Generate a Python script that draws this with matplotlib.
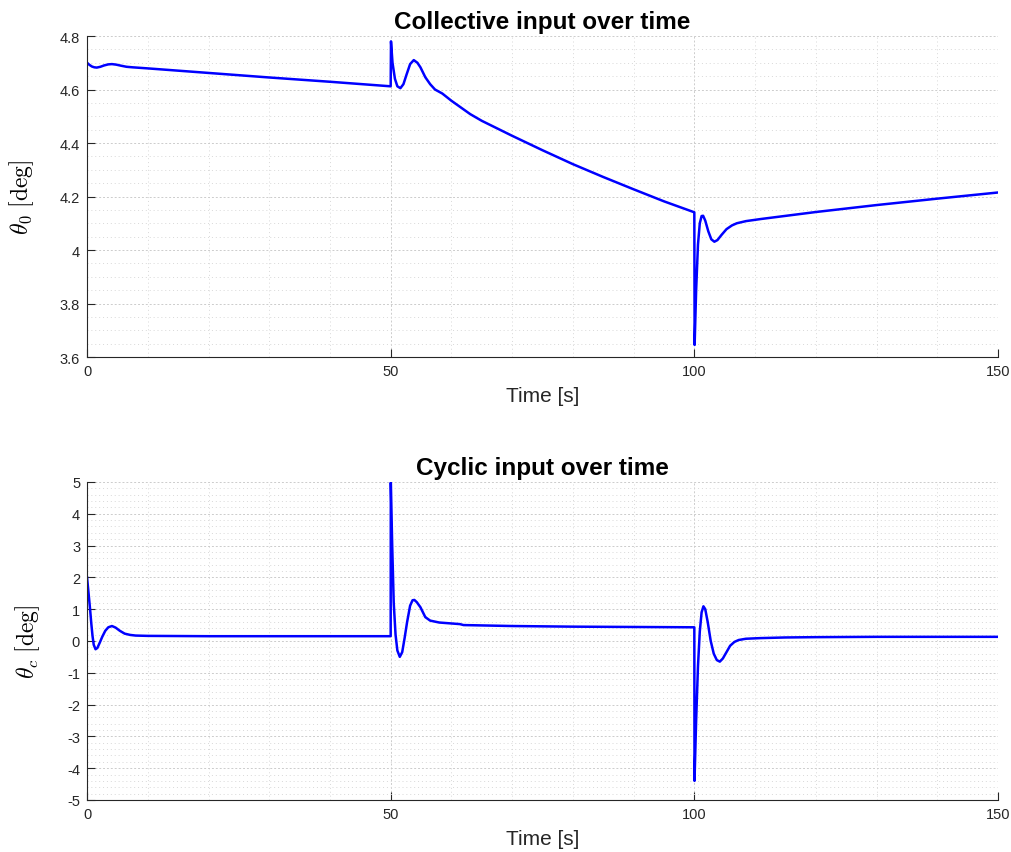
import numpy as np
import matplotlib.pyplot as plt
from matplotlib.ticker import MultipleLocator, FuncFormatter

plt.rcParams['font.family'] = ['Liberation Sans', 'DejaVu Sans']
plt.rcParams['mathtext.fontset'] = 'cm'
plt.rcParams['axes.unicode_minus'] = False

# collective pitch theta_0 [deg]
t_coll = [0, 0.4, 0.8, 1.2, 1.6, 2.2, 2.8, 3.5, 4.1, 4.8, 5.6, 6.5, 7.5, 10, 20, 30, 40,
          50.0, 50.05, 50.3, 50.7, 51.1, 51.6, 52.1, 52.6, 53.2, 53.8, 54.4, 54.9, 55.7,
          56.5, 57.3, 58.5, 60, 63.1, 65, 70, 75, 80, 85, 90, 95,
          100.0, 100.05, 100.3, 100.6, 100.9, 101.2, 101.45, 101.8, 102.3, 102.8, 103.3,
          103.8, 104.5, 105.3, 106.2, 107, 108.5, 111, 120, 130, 140, 150]
theta0 = [4.700, 4.692, 4.686, 4.683, 4.682, 4.685, 4.690, 4.694, 4.695, 4.693, 4.689,
          4.685, 4.683, 4.679, 4.662, 4.645, 4.629,
          4.612, 4.780, 4.700, 4.640, 4.612, 4.605, 4.620, 4.655, 4.695, 4.710, 4.700,
          4.683, 4.646, 4.620, 4.600, 4.585, 4.558, 4.508, 4.483, 4.427, 4.373, 4.321,
          4.273, 4.227, 4.182,
          4.141, 3.645, 3.850, 4.020, 4.100, 4.127, 4.128, 4.110, 4.070, 4.040, 4.031,
          4.037, 4.057, 4.078, 4.092, 4.100, 4.108, 4.116, 4.142, 4.168, 4.192, 4.215]

# cyclic pitch theta_c [deg]
t_cyc = [0, 0.25, 0.5, 0.7, 0.9, 1.1, 1.4, 1.7, 2.1, 2.5, 3.0, 3.5, 4.1, 4.7, 5.4, 6.2,
         7.1, 8, 10, 20, 30, 40,
         50.0, 50.02, 50.25, 50.5, 50.8, 51.1, 51.5, 51.9, 52.3, 52.7, 53.2, 53.6, 53.9,
         54.3, 54.9, 55.7, 56.5, 58, 61.4, 62, 70, 80, 90,
         100.0, 100.03, 100.3, 100.6, 100.9, 101.2, 101.5, 101.8, 102.2, 102.7, 103.2,
         103.7, 104.2, 104.7, 105.3, 105.9, 106.6, 107.3, 108.5, 110.9, 115, 120, 130, 150]
thetac = [2.00, 1.50, 1.00, 0.55, 0.16, -0.12, -0.26, -0.22, -0.05, 0.13, 0.32, 0.43,
          0.47, 0.42, 0.32, 0.23, 0.19, 0.17, 0.16, 0.15, 0.15, 0.15,
          0.15, 4.98, 3.00, 1.20, 0.20, -0.30, -0.50, -0.35, 0.10, 0.59, 1.11, 1.28, 1.29,
          1.22, 1.06, 0.75, 0.64, 0.58, 0.53, 0.50, 0.47, 0.45, 0.44,
          0.43, -4.40, -2.50, -0.80, 0.30, 0.90, 1.09, 1.00, 0.60, 0.00, -0.40, -0.60,
          -0.65, -0.55, -0.35, -0.15, -0.03, 0.03, 0.07, 0.09, 0.11, 0.12, 0.13, 0.13]

xticks = [0, 50, 100, 150]

fig = plt.figure(figsize=(10.11, 8.53), dpi=100)
ax1 = fig.add_axes([0.0861, 0.5803, 0.901, 0.3763])
ax2 = fig.add_axes([0.0861, 0.0610, 0.901, 0.3728])


def matlab_fmt(v, pos):
    s = '%.1f' % v
    if s.endswith('.0'):
        s = s[:-2]
    return s


def style(ax, ymin, ymax, ystep, yminor):
    ax.set_xlim(0, 150)
    ax.set_ylim(ymin, ymax)
    ax.set_xticks(xticks)
    ax.set_yticks(np.arange(ymin, ymax + ystep / 2, ystep))
    ax.xaxis.set_minor_locator(MultipleLocator(10))
    ax.yaxis.set_minor_locator(MultipleLocator(yminor))
    ax.yaxis.set_major_formatter(FuncFormatter(matlab_fmt))
    ax.grid(which='major', color='#cccccc', linestyle=(0, (2, 2)), linewidth=0.7)
    ax.grid(which='minor', color='#d8d8d8', linestyle=(0, (1, 3)), linewidth=0.7)
    ax.set_axisbelow(True)
    for side in ['top', 'right']:
        ax.spines[side].set_visible(False)
    for side in ['left', 'bottom']:
        ax.spines[side].set_color('#262626')
        ax.spines[side].set_linewidth(0.8)
    ax.tick_params(which='major', direction='in', length=6, width=0.8,
                   colors='#262626', labelsize=10.5, pad=5)
    ax.tick_params(which='minor', length=0)
    ax.set_xlabel('Time [s]', fontsize=15, color='#262626', labelpad=6)


ax1.plot(t_coll, theta0, color='#0000ff', linewidth=1.8)
style(ax1, 3.6, 4.8, 0.2, 0.05)
ax1.set_title('Collective input over time', fontsize=17.5, fontweight='bold', pad=5.5)
ax1.set_ylabel(r'$\theta_0\ [\mathrm{deg}]$', fontsize=17, labelpad=17)

ax2.plot(t_cyc, thetac, color='#0000ff', linewidth=1.8)
style(ax2, -5, 5, 1, 0.2)
ax2.set_title('Cyclic input over time', fontsize=17.5, fontweight='bold', pad=5.5)
ax2.set_ylabel(r'$\theta_c\ [\mathrm{deg}]$', fontsize=17, labelpad=18)

fig.savefig('out.png', dpi=100)
